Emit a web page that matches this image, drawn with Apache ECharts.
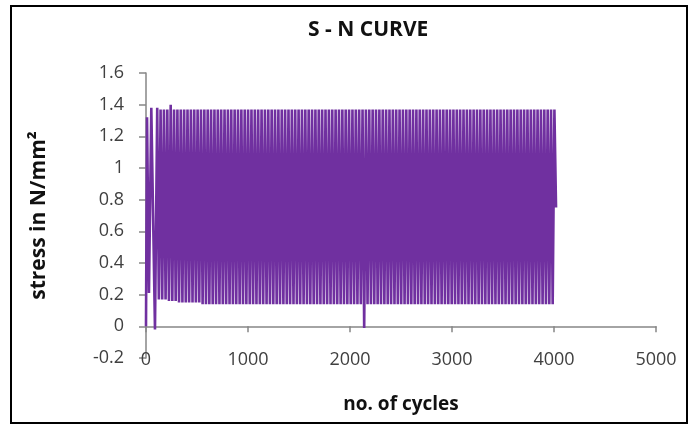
<!DOCTYPE html>
<html>
<head>
<meta charset="utf-8">
<title>S - N CURVE</title>
<script src="https://cdn.jsdelivr.net/npm/echarts@6/dist/echarts.min.js"></script>
<style>
  html, body { margin: 0; padding: 0; background: #fff; }
  #chart { width: 696px; height: 427px; }
</style>
</head>
<body>
<div id="chart"></div>
<script>
// axis ticks
const xTicks = [0, 1000, 2000, 3000, 4000, 5000];
const yTicks = [-0.2, 0, 0.2, 0.4, 0.6, 0.8, 1, 1.2, 1.4, 1.6];

// first few irregular cycles at the start of the test
const startCycles = [0, 10, 29, 52, 88];
const startStress = [0.0, 1.32, 0.21, 1.38, -0.02];

// peak / trough turning points (pairs per row)
const cycles = [
  110, 126, 143, 159, 176, 192, 209, 225, 242, 258, 275, 291, 308, 324, 341, 357, 374, 390, 407, 423,
  440, 456, 473, 489, 506, 522, 539, 555, 572, 588, 605, 621, 638, 654, 671, 687, 704, 720, 737, 753,
  770, 786, 803, 819, 836, 852, 869, 885, 902, 918, 935, 951, 968, 984, 1001, 1017, 1034, 1050, 1067, 1083,
  1100, 1116, 1133, 1149, 1166, 1182, 1199, 1215, 1232, 1248, 1265, 1281, 1298, 1314, 1331, 1347, 1364, 1380, 1397, 1413,
  1430, 1446, 1463, 1479, 1496, 1512, 1529, 1545, 1562, 1578, 1595, 1611, 1628, 1644, 1661, 1677, 1694, 1710, 1727, 1743,
  1760, 1776, 1793, 1809, 1826, 1842, 1859, 1875, 1892, 1908, 1925, 1941, 1958, 1974, 1991, 2007, 2024, 2040, 2057, 2073,
  2090, 2106, 2123, 2139, 2156, 2172, 2189, 2205, 2222, 2238, 2255, 2271, 2288, 2304, 2321, 2337, 2354, 2370, 2387, 2403,
  2420, 2436, 2453, 2469, 2486, 2502, 2519, 2535, 2552, 2568, 2585, 2601, 2618, 2634, 2651, 2667, 2684, 2700, 2717, 2733,
  2750, 2766, 2783, 2799, 2816, 2832, 2849, 2865, 2882, 2898, 2915, 2931, 2948, 2964, 2981, 2997, 3014, 3030, 3047, 3063,
  3080, 3096, 3113, 3129, 3146, 3162, 3179, 3195, 3212, 3228, 3245, 3261, 3278, 3294, 3311, 3327, 3344, 3360, 3377, 3393,
  3410, 3426, 3443, 3459, 3476, 3492, 3509, 3525, 3542, 3558, 3575, 3591, 3608, 3624, 3641, 3657, 3674, 3690, 3707, 3723,
  3740, 3756, 3773, 3789, 3806, 3822, 3839, 3855, 3872, 3888, 3905, 3921, 3938, 3954, 3971, 3987, 4004, 4020, 4040, 4058
];

const stress = [
  1.38, 0.17, 1.37, 0.17, 1.37, 0.17, 1.37, 0.16, 1.40, 0.16, 1.37, 0.16, 1.37, 0.15, 1.37, 0.15, 1.37, 0.15, 1.37, 0.15,
  1.37, 0.15, 1.37, 0.15, 1.37, 0.15, 1.37, 0.14, 1.37, 0.14, 1.37, 0.14, 1.37, 0.14, 1.37, 0.14, 1.37, 0.14, 1.37, 0.14,
  1.37, 0.14, 1.37, 0.14, 1.37, 0.14, 1.37, 0.14, 1.37, 0.14, 1.37, 0.14, 1.37, 0.14, 1.37, 0.14, 1.37, 0.14, 1.37, 0.14,
  1.37, 0.14, 1.37, 0.14, 1.37, 0.14, 1.37, 0.14, 1.37, 0.14, 1.37, 0.14, 1.37, 0.14, 1.37, 0.14, 1.37, 0.14, 1.37, 0.14,
  1.37, 0.14, 1.37, 0.14, 1.37, 0.14, 1.37, 0.14, 1.37, 0.14, 1.37, 0.14, 1.37, 0.14, 1.37, 0.14, 1.37, 0.14, 1.37, 0.14,
  1.37, 0.14, 1.37, 0.14, 1.37, 0.14, 1.37, 0.14, 1.37, 0.14, 1.37, 0.14, 1.37, 0.14, 1.37, 0.14, 1.37, 0.14, 1.37, 0.14,
  1.37, 0.14, 1.37, -0.01, 1.37, 0.14, 1.37, 0.14, 1.37, 0.14, 1.37, 0.14, 1.37, 0.14, 1.37, 0.14, 1.37, 0.14, 1.37, 0.14,
  1.37, 0.14, 1.37, 0.14, 1.37, 0.14, 1.37, 0.14, 1.37, 0.14, 1.37, 0.14, 1.37, 0.14, 1.37, 0.14, 1.37, 0.14, 1.37, 0.14,
  1.37, 0.14, 1.37, 0.14, 1.37, 0.14, 1.37, 0.14, 1.37, 0.14, 1.37, 0.14, 1.37, 0.14, 1.37, 0.14, 1.37, 0.14, 1.37, 0.14,
  1.37, 0.14, 1.37, 0.14, 1.37, 0.14, 1.37, 0.14, 1.37, 0.14, 1.37, 0.14, 1.37, 0.14, 1.37, 0.14, 1.37, 0.14, 1.37, 0.14,
  1.37, 0.14, 1.37, 0.14, 1.37, 0.14, 1.37, 0.14, 1.37, 0.14, 1.37, 0.14, 1.37, 0.14, 1.37, 0.14, 1.37, 0.14, 1.37, 0.14,
  1.37, 0.14, 1.37, 0.14, 1.37, 0.14, 1.37, 0.14, 1.37, 0.14, 1.37, 0.14, 1.37, 0.14, 1.37, 0.14, 1.37, 0.75
];

const axisGray = '#868686';
const labelFont = 'Open Sans';

function buildSeriesData() {
  const xs = startCycles.concat(cycles);
  const ys = startStress.concat(stress);
  return xs.map((c, i) => [c, ys[i]]);
}

function createChartOption() {
  return {
    animation: false,
    title: {
      text: 'S - N CURVE',
      left: 303,
      top: 15,
      textStyle: { fontFamily: labelFont, fontWeight: 'bold', fontSize: 21, color: '#111' }
    },
    graphic: [
      {
        type: 'rect',
        shape: { x: 11, y: 6, width: 676, height: 417 },
        style: { fill: 'none', stroke: '#000', lineWidth: 2 },
        silent: true
      }
    ],
    grid: { left: 146, right: 40, top: 73, bottom: 69 },
    xAxis: [
      {
        type: 'value',
        min: xTicks[0],
        max: xTicks[xTicks.length - 1],
        interval: 1000,
        position: 'bottom',
        name: 'no. of cycles',
        nameLocation: 'middle',
        nameGap: 37,
        nameTextStyle: { fontFamily: labelFont, fontWeight: 'bold', fontSize: 19, color: '#111' },
        axisLine: { show: false, onZero: false },
        axisTick: { show: false },
        axisLabel: {
          fontFamily: labelFont,
          fontSize: 18,
          color: '#404040',
          margin: -7,
          formatter: (v) => String(v)
        },
        splitLine: { show: false }
      },
      {
        type: 'value',
        min: xTicks[0],
        max: xTicks[xTicks.length - 1],
        interval: 1000,
        position: 'bottom',
        axisLine: { show: true, onZero: true, lineStyle: { color: axisGray, width: 1.5 } },
        axisTick: { show: true, length: 6, lineStyle: { color: axisGray, width: 1.5 } },
        axisLabel: { show: false },
        splitLine: { show: false }
      }
    ],
    yAxis: {
      type: 'value',
      min: yTicks[0],
      max: yTicks[yTicks.length - 1],
      interval: 0.2,
      name: 'stress in N/mm²',
      nameLocation: 'middle',
      nameGap: 96,
      nameTextStyle: { fontFamily: labelFont, fontWeight: 'bold', fontSize: 21, color: '#111' },
      axisLine: { show: true, lineStyle: { color: axisGray, width: 1.5 } },
      axisTick: { show: true, length: 7, lineStyle: { color: axisGray, width: 1.5 } },
      axisLabel: { fontFamily: labelFont, fontSize: 18, color: '#404040', margin: 22 },
      splitLine: { show: false }
    },
    series: [
      {
        type: 'line',
        xAxisIndex: 0,
        data: buildSeriesData(),
        symbol: 'none',
        lineStyle: { color: '#7030a0', width: 2.6 },
        z: 1
      }
    ]
  };
}

const chart = echarts.init(document.getElementById('chart'), null, { renderer: 'canvas' });
chart.setOption(createChartOption());
</script>
</body>
</html>
